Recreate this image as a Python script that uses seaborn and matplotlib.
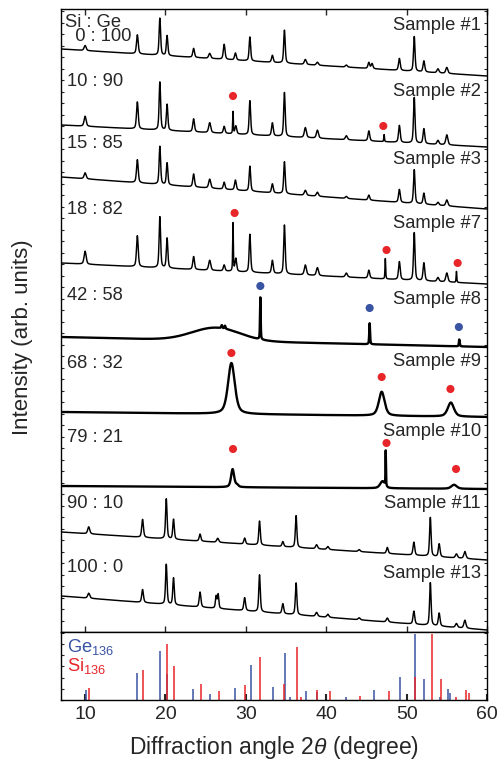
import numpy as np
import pandas as pd
import matplotlib
matplotlib.use('Agg')
import matplotlib.pyplot as plt
import seaborn as sns

# ---- values ----
# peaks: (2theta, height above background, fwhm in degrees)
s1_peaks = [(10.0, 5, .3), (16.5, 19, .25), (19.3, 37, .22), (20.2, 20, .22), (23.5, 9, .25),
            (25.5, 5, .3), (27.3, 15, .25), (28.7, 7, .25), (30.5, 24, .22), (33.3, 7, .25),
            (34.8, 33, .22), (37.4, 5, .3), (38.9, 3, .3), (42.5, 2, .3), (45.3, 6, .25),
            (45.7, 5, .25), (49.1, 12, .25), (50.95, 35, .22), (52.15, 11, .25), (53.9, 4, .3),
            (55.0, 6, .3)]
s2_peaks = [(10.0, 10, .3), (16.5, 27, .25), (19.3, 48, .22), (20.2, 26, .22), (23.5, 13, .25),
            (25.5, 10, .3), (27.3, 7, .25), (28.4, 22, .1), (28.75, 8, .25), (30.5, 34, .22),
            (33.3, 13, .25), (34.8, 44, .22), (37.4, 10, .3), (38.9, 8, .3), (42.5, 4, .3),
            (45.3, 10, .25), (47.2, 7, .1), (49.1, 17, .25), (50.95, 46, .22), (52.15, 15, .25),
            (53.9, 4, .3), (55.0, 10, .3)]
s3_peaks = [(10.0, 6, .3), (16.5, 23, .25), (19.3, 38, .22), (20.2, 22, .22), (23.5, 13, .25),
            (25.5, 9, .3), (27.3, 7, .25), (28.7, 10, .25), (30.5, 25, .22), (33.3, 9, .25),
            (34.8, 32, .22), (37.4, 5, .3), (38.9, 4, .3), (42.5, 2, .3), (45.3, 5, .25),
            (49.1, 13, .25), (50.95, 34, .22), (52.15, 11, .25), (53.9, 3, .3), (55.0, 6, .3)]
s7_peaks = [(10.0, 13, .3), (16.5, 31, .25), (19.3, 51, .22), (20.2, 30, .22), (23.5, 13, .25),
            (25.5, 10, .3), (27.3, 6, .25), (28.4, 48, .1), (28.75, 13, .25), (30.5, 38, .22),
            (33.3, 13, .25), (34.8, 49, .22), (37.4, 10, .3), (38.9, 8, .3), (42.5, 4, .3),
            (45.3, 8, .25), (47.35, 21, .1), (49.1, 18, .25), (50.95, 48, .22), (52.15, 18, .25),
            (53.9, 4, .3), (55.0, 9, .3), (56.2, 11, .1)]
s8_peaks = [(27.0, 3, .15), (27.4, 3, .15), (31.8, 42, .1), (45.4, 21, .12), (56.55, 7, .12)]
s9_peaks = [(28.2, 51, 1.0), (46.9, 24, .85), (55.5, 14, .9)]
s10_peaks = [(28.35, 18, .45), (28.9, 2, .4), (47.0, 7, .7), (47.4, 35, .07), (55.9, 4, .8)]
s11_peaks = [(10.45, 7, .3), (17.15, 18, .25), (20.1, 40, .22), (21.0, 20, .22), (24.3, 7, .25),
             (26.5, 4, .3), (29.85, 6, .25), (31.7, 24, .22), (34.6, 5, .25), (36.25, 32, .22),
             (38.8, 4, .3), (40.2, 3, .3), (44.1, 2, .3), (47.6, 6, .25), (50.9, 13, .25),
             (52.95, 39, .22), (54.05, 13, .25), (56.2, 4, .3), (57.25, 7, .3)]
s13_peaks = [(10.45, 5, .3), (17.15, 13, .25), (20.1, 40, .22), (21.0, 27, .22), (24.3, 15, .25),
             (26.3, 12, .2), (26.55, 14, .2), (29.85, 13, .25), (31.7, 37, .22), (34.6, 10, .25),
             (36.25, 32, .22), (38.8, 4, .3), (40.2, 3, .3), (44.1, 2, .3), (47.6, 4, .3),
             (50.9, 13, .25), (52.95, 43, .22), (54.05, 13, .25), (56.2, 4, .3), (57.25, 8, .3)]

samples = ["Sample #1", "Sample #2", "Sample #3", "Sample #7", "Sample #8",
           "Sample #9", "Sample #10", "Sample #11", "Sample #13"]
ratios = ["0 : 100", "10 : 90", "15 : 85", "18 : 82", "42 : 58",
          "68 : 32", "79 : 21", "90 : 10", "100 : 0"]
peak_sets = [s1_peaks, s2_peaks, s3_peaks, s7_peaks, s8_peaks,
             s9_peaks, s10_peaks, s11_peaks, s13_peaks]
# stacked background level at 7 deg and at 60 deg
bg_left = [583, 507, 455, 369, 295, 220, 146, 100, 36]
bg_right = [556, 485, 423, 348, 285, 215, 143, 72, 2]
# amorphous hump of sample #8: centre, height, fwhm
hump_s8 = (26.3, 13, 7.0)

# phase markers (2theta, level)
si_dot_x = [28.4, 47.1, 28.6, 47.5, 56.35, 28.2, 46.9, 55.45, 28.4, 47.5, 56.15]
si_dot_y = [536, 506, 419, 382, 369, 279, 255, 243, 183, 189, 163]
ge_dot_x = [31.8, 45.4, 56.5]
ge_dot_y = [346, 324, 305]

# reference sticks (relative intensity)
ge136_pos = [10.05, 16.4, 19.35, 20.25, 23.4, 25.5, 28.7, 30.6, 33.35, 34.9, 35.5,
             37.5, 38.9, 42.5, 45.9, 49.15, 51.05, 52.2, 54.1, 55.1, 55.4]
ge136_int = [15, 41, 74, 39, 16, 9, 18, 54, 20, 72, 5, 14, 12, 4, 15, 35, 100, 32, 5, 16, 10]
si136_pos = [10.5, 17.2, 20.2, 21.1, 24.4, 26.6, 29.95, 31.8, 34.7, 36.35, 36.9,
             38.9, 40.45, 44.25, 47.8, 51.1, 53.1, 54.3, 56.2, 57.4, 57.7]
si136_int = [19, 45, 85, 51, 24, 13, 23, 65, 25, 80, 5, 15, 13, 6, 14, 35, 100, 32, 4, 15, 10]

RED = "#e8262a"
BLUE = "#3a54a4"


def pattern(x, peaks, left, right, hump=None):
    y = left + (right - left) * (x - 7) / 53.0
    for pos, h, w in peaks:
        g = np.exp(-4 * np.log(2) * ((x - pos) / w) ** 2)
        l = 1 / (1 + ((x - pos) / (w / 2)) ** 2)
        y = y + h * (0.5 * g + 0.5 * l)
    if hump is not None:
        c, h, w = hump
        y = y + h * np.exp(-4 * np.log(2) * ((x - c) / w) ** 2)
    return y


sns.set_theme(style="ticks")
plt.rcParams['font.family'] = ['Liberation Sans', 'DejaVu Sans']
plt.rcParams['mathtext.fontset'] = 'custom'
plt.rcParams['mathtext.rm'] = 'Liberation Sans'
plt.rcParams['mathtext.it'] = 'Liberation Sans:italic'

fig = plt.figure(figsize=(5.02, 7.64), dpi=100)
W, H = 502.0, 764.0
ax = fig.add_axes([61 / W, 1 - 632 / H, 426 / W, 623 / H])
axr = fig.add_axes([61 / W, 1 - 700 / H, 426 / W, 68 / H])

angle = np.linspace(7, 60, 2651)
rows = []
for i, name in enumerate(samples):
    hump = hump_s8 if name == "Sample #8" else None
    y = pattern(angle, peak_sets[i], bg_left[i], bg_right[i], hump)
    rows.append(pd.DataFrame({"angle": angle, "intensity": y, "sample": name}))
df = pd.concat(rows, ignore_index=True)

for name in samples:
    lw = 1.7 if name in ("Sample #8", "Sample #9", "Sample #10") else 1.05
    sns.lineplot(data=df[df["sample"] == name], x="angle", y="intensity",
                 color="black", lw=lw, estimator=None, sort=False, ax=ax)

sns.scatterplot(x=si_dot_x, y=si_dot_y, color=RED, s=34, edgecolor="none", ax=ax, zorder=5)
sns.scatterplot(x=ge_dot_x, y=ge_dot_y, color=BLUE, s=34, edgecolor="none", ax=ax, zorder=5)

# labels
label_y_ratio = [596.5, 551, 488, 422, 336, 269, 194, 128, 65]
label_y_sample = [607, 541, 473, 408, 333, 271, 201, 128, 58]
fs = 13.2
for i, name in enumerate(samples):
    if i == 0:
        # header and first ratio share one text block, as they sit tight together
        ax.text(7.45, 591, "Si : Ge\n  " + ratios[0], fontsize=fs, ha="left",
                va="baseline", linespacing=0.78)
    else:
        ax.text(7.8, label_y_ratio[i], ratios[i], fontsize=fs, ha="left", va="center")
    ax.text(59.25, label_y_sample[i], name, fontsize=fs, ha="right", va="center")

ax.set_xlim(7, 60)
ax.set_ylim(0, 623)
ax.set_xlabel("")
ax.set_ylabel("")
ax.set_xticks([10, 20, 30, 40, 50, 60])
ax.set_yticks(np.arange(0, 623, 11.5))
ax.tick_params(axis="x", direction="in", top=True, bottom=True, length=4, width=1,
               labelbottom=False)
ax.tick_params(axis="y", direction="in", left=True, right=True, length=2.5, width=0.8,
               labelleft=False)

# reference patterns
axr.vlines(ge136_pos, 0, ge136_int, color=BLUE, lw=1.3, alpha=0.85)
axr.vlines(si136_pos, 0, si136_int, color=RED, lw=1.3, alpha=0.85)
axr.set_xlim(7, 60)
axr.set_ylim(0, 103.5)
axr.set_xticks([10, 20, 30, 40, 50, 60])
axr.set_yticks(np.arange(0, 103, 17))
axr.tick_params(axis="x", direction="in", top=False, bottom=True, length=4, width=1.5,
                labelsize=14, pad=4)
axr.tick_params(axis="y", direction="in", left=True, right=True, length=2.5, width=0.8,
                labelleft=False)
axr.text(7.8, 80, r"Ge$_{\mathregular{136}}$", color=BLUE, fontsize=fs, ha="left", va="center")
axr.text(7.8, 52, r"Si$_{\mathregular{136}}$", color=RED, fontsize=fs, ha="left", va="center")
axr.set_xlabel(r"Diffraction angle 2$\mathit{\theta}$ (degree)", fontsize=16.5, labelpad=8)

for a in (ax, axr):
    for sp in a.spines.values():
        sp.set_linewidth(1.0)
        sp.set_color("black")
        sp.set_visible(True)

fig.text(23 / W, 1 - 337 / H, "Intensity (arb. units)", rotation=90, fontsize=16,
         ha="center", va="center")

fig.savefig("out.png", dpi=100)
